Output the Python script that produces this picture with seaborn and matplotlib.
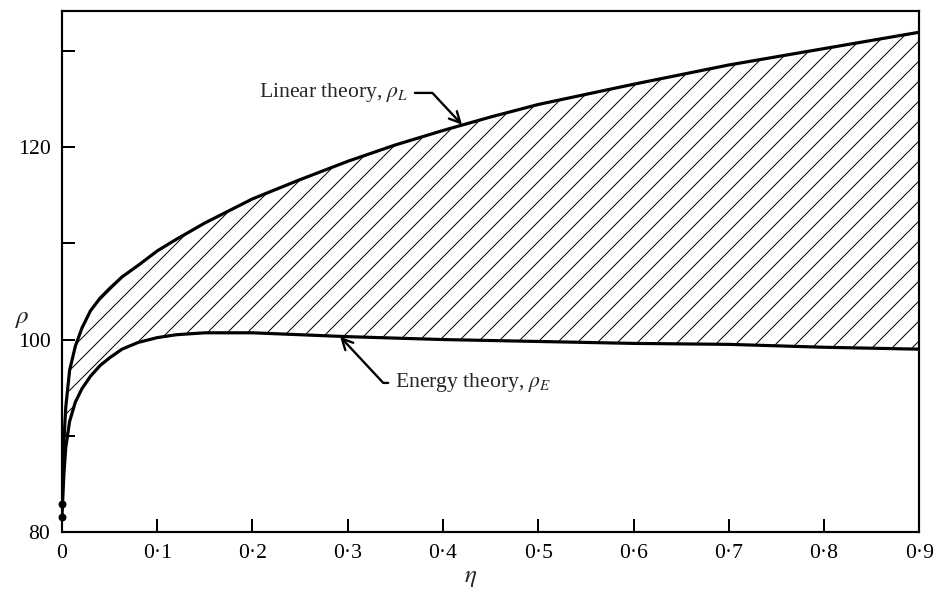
import matplotlib
matplotlib.use("Agg")
import matplotlib.pyplot as plt
import seaborn as sns
import pandas as pd

# ---- data ----
eta = [0, 0.001, 0.002, 0.004, 0.008, 0.014, 0.021, 0.03, 0.04, 0.05, 0.063,
       0.08, 0.1, 0.12, 0.15, 0.2, 0.25, 0.3, 0.35, 0.4, 0.45, 0.5, 0.6, 0.7,
       0.8, 0.9]
rho_L = [82.9, 86.5, 89.5, 93.0, 96.8, 99.3, 101.2, 103.0, 104.3, 105.3, 106.5,
         107.7, 109.2, 110.4, 112.1, 114.6, 116.6, 118.5, 120.2, 121.7, 123.1,
         124.4, 126.5, 128.5, 130.2, 131.9]
rho_E = [81.6, 83.8, 86.0, 88.8, 91.5, 93.5, 94.9, 96.2, 97.3, 98.1, 99.0,
         99.7, 100.2, 100.5, 100.7, 100.7, 100.5, 100.3, 100.15, 100.0, 99.9,
         99.8, 99.6, 99.5, 99.2, 99.0]
x_ticks = [0, 0.1, 0.2, 0.3, 0.4, 0.5, 0.6, 0.7, 0.8, 0.9]
x_tick_labels = ["0", "0·1", "0·2", "0·3", "0·4", "0·5", "0·6", "0·7", "0·8", "0·9"]
y_major = [80, 100, 120]
y_minor = [90, 110, 130]
label_L = "Linear theory, $\\rho_L$"
label_E = "Energy theory, $\\rho_E$"

df = pd.DataFrame({"eta": eta, "rho_L": rho_L, "rho_E": rho_E})

sns.set_theme(style="ticks")
plt.rcParams["font.family"] = ["Liberation Serif", "DejaVu Serif"]
plt.rcParams["mathtext.fontset"] = "stix"
plt.rcParams["hatch.linewidth"] = 0.6

DPI = 120
fig = plt.figure(figsize=(939 / DPI, 596 / DPI), dpi=DPI)
ax = fig.add_axes([0.066, 0.107, 0.913, 0.8745])

ax.fill_between(df["eta"], df["rho_E"], df["rho_L"], facecolor="none",
                edgecolor="black", hatch="//", linewidth=0)
sns.lineplot(data=df, x="eta", y="rho_L", ax=ax, color="black", lw=1.9)
sns.lineplot(data=df, x="eta", y="rho_E", ax=ax, color="black", lw=1.9)
ax.scatter([eta[0], eta[0]], [rho_L[0], rho_E[0]], s=14, color="black",
           zorder=5, clip_on=False)

ax.set_xlim(0, 0.9)
ax.set_ylim(80, 134.1)
ax.set_xticks(x_ticks)
ax.set_xticklabels(x_tick_labels)
ax.set_yticks(y_major)
ax.set_yticks(y_minor, minor=True)

ax.tick_params(axis="both", which="both", direction="in", length=8,
               width=1.2, color="black", labelsize=13, labelcolor="black")
ax.tick_params(axis="x", pad=7)
ax.tick_params(axis="y", pad=7)

for s in ax.spines.values():
    s.set_visible(True)
    s.set_linewidth(1.3)
    s.set_color("black")

ax.set_xlabel("$\\eta$", fontsize=15, va="center")
ax.set_ylabel("$\\rho$", fontsize=15, rotation=0, va="center", ha="center")
ax.xaxis.set_label_coords(0.476, -0.088)
ax.yaxis.set_label_coords(-0.047, 0.41)

ax.annotate(label_L, xy=(0.42, 122.3), xytext=(0.363, 125.6),
            ha="right", va="center", fontsize=13,
            arrowprops=dict(arrowstyle="->,head_length=0.5,head_width=0.25",
                            connectionstyle="angle,angleA=0,angleB=-47,rad=0",
                            relpos=(1.0, 0.5), color="black", lw=1.4,
                            shrinkA=2, shrinkB=0))
ax.annotate(label_E, xy=(0.292, 100.3), xytext=(0.35, 95.5),
            ha="left", va="center", fontsize=13,
            arrowprops=dict(arrowstyle="->,head_length=0.5,head_width=0.25",
                            connectionstyle="angle,angleA=0,angleB=-47,rad=0",
                            relpos=(0.0, 0.5), color="black", lw=1.4,
                            shrinkA=2, shrinkB=0))

fig.savefig("out.png", dpi=DPI)
